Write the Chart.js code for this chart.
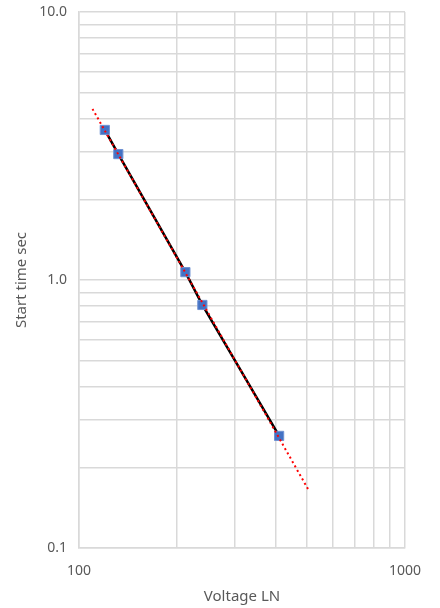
<!DOCTYPE html>
<html lang="en">
<head>
  <meta charset="UTF-8" />
  <title>Start time vs Voltage LN</title>
  <script src="https://cdn.jsdelivr.net/npm/chart.js"></script>
  <style>
    html, body {
      margin: 0;
      padding: 0;
      background: #ffffff;
    }
    #chartBox {
      width: 440px;
      height: 608px;
    }
  </style>
</head>
<body>
  <div id="chartBox">
    <canvas id="startChart"></canvas>
  </div>

  <script>
    // measured points
    const voltage = [120, 132, 212, 239, 411];
    const startTime = [3.63, 2.95, 1.07, 0.807, 0.262];

    // power trendline, end points
    const trendVoltage = [110, 504];
    const trendTime = [4.35, 0.166];

    // grid lines and the labels that show
    const xGrid = [100, 200, 300, 400, 500, 600, 700, 800, 900, 1000];
    const xLabels = { 100: '100', 1000: '1000' };
    const yGrid = [0.1, 0.2, 0.3, 0.4, 0.5, 0.6, 0.7, 0.8, 0.9,
                   1, 2, 3, 4, 5, 6, 7, 8, 9, 10];
    const yLabels = { 0.1: '0.1', 1: '1.0', 10: '10.0' };

    const textColor = '#595959';
    const gridColor = '#d9d9d9';
    const tickFont = { family: 'Noto Sans', size: 14 };
    const titleFont = { family: 'Noto Sans', size: 15 };

    const toXY = (xs, ys) => xs.map((x, i) => ({ x: x, y: ys[i] }));

    new Chart(document.getElementById('startChart').getContext('2d'), {
      type: 'scatter',
      data: {
        datasets: [
          {
            label: 'Trend',
            data: toXY(trendVoltage, trendTime),
            showLine: true,
            borderColor: '#ff0000',
            borderWidth: 2,
            borderDash: [2, 3],
            pointRadius: 0,
            order: 0
          },
          {
            label: 'Start time',
            data: toXY(voltage, startTime),
            showLine: true,
            borderColor: '#000000',
            borderWidth: 2.5,
            pointStyle: 'rect',
            pointRadius: 6.5,
            pointBorderWidth: 1,
            pointBackgroundColor: '#4472c4',
            pointBorderColor: '#6f92d3',
            order: 1
          }
        ]
      },
      options: {
        responsive: true,
        maintainAspectRatio: false,
        animation: false,
        layout: { padding: { top: 12, right: 35, left: 0, bottom: 0 } },
        plugins: {
          legend: { display: false },
          tooltip: { enabled: false }
        },
        scales: {
          x: {
            type: 'logarithmic',
            min: 100,
            max: 1000,
            afterBuildTicks: s => { s.ticks = xGrid.map(v => ({ value: v })); },
            afterFit: s => { s.height = 60; s.paddingLeft = 0; s.paddingRight = 0; },
            grid: { color: gridColor, lineWidth: 1.5, drawTicks: false },
            border: { color: gridColor, width: 1.5 },
            ticks: {
              autoSkip: false,
              maxRotation: 0,
              padding: 15,
              color: textColor,
              font: tickFont,
              callback: v => xLabels[v] || ''
            },
            title: {
              display: true,
              text: 'Voltage LN',
              color: textColor,
              font: titleFont,
              padding: { top: 0, bottom: 2 }
            }
          },
          y: {
            type: 'logarithmic',
            min: 0.1,
            max: 10,
            afterBuildTicks: s => { s.ticks = yGrid.map(v => ({ value: v })); },
            afterFit: s => { s.width = 79; s.paddingTop = 0; s.paddingBottom = 0; },
            grid: { color: gridColor, lineWidth: 1.5, drawTicks: false },
            border: { color: gridColor, width: 1.5 },
            ticks: {
              autoSkip: false,
              padding: 12,
              color: textColor,
              font: tickFont,
              callback: v => yLabels[v] || ''
            },
            title: {
              display: true,
              text: 'Start time sec',
              color: textColor,
              font: titleFont,
              padding: { top: 13, bottom: 0 }
            }
          }
        }
      }
    });
  </script>
</body>
</html>
